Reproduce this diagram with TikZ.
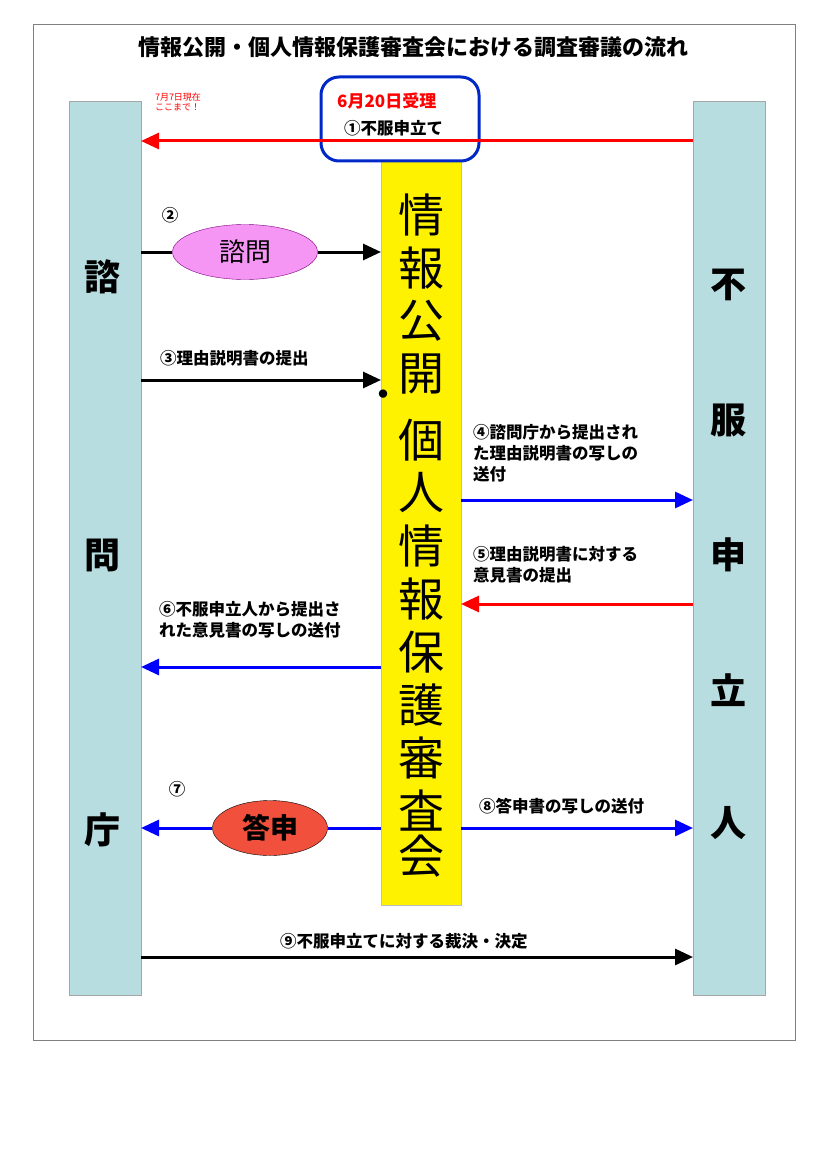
\documentclass[tikz,border=0pt]{standalone}
\usepackage{fontspec}
\setmainfont{Noto Sans CJK JP}
\usetikzlibrary{arrows.meta,shapes.geometric}
\begin{document}
\begin{tikzpicture}[x=1pt,y=-1pt,
  col/.style={draw=gray!70,fill={rgb,255:red,183;green,221;blue,224}},
  arr/.style={line width=3pt,-{Triangle[length=18pt,width=16pt]}},
  lbl/.style={font=\fontsize{16.5}{21}\selectfont\bfseries,align=left,inner sep=0},
  big/.style={font=\fontsize{36}{38}\selectfont\bfseries},
  yel/.style={font=\fontsize{46}{46}\selectfont}]
\useasboundingbox (0,0) rectangle (826,1169);
\draw[gray,line width=1pt] (33,25) rectangle (795,1040);
\node[font=\fontsize{22}{24}\selectfont\bfseries] (title) at (413,47) {情報公開・個人情報保護審査会における調査審議の流れ};
\node[col,minimum width=72pt,minimum height=894pt,inner sep=0] (L) at (105,548) {};
\node[col,minimum width=72pt,minimum height=894pt,inner sep=0] (R) at (729,548) {};
\node[fill=yellow,draw=gray!50,minimum width=80pt,minimum height=745pt,inner sep=0] (Y) at (421,532.5) {};
\node[draw={rgb,255:red,0;green,40;blue,200},line width=3pt,rounded corners=18pt,minimum width=158pt,minimum height=84pt] (box) at (400,119) {};
\node[text=red,font=\fontsize{17}{18}\selectfont\bfseries,anchor=west,inner sep=0] (d) at (337,101) {6月20日受理};
\node[lbl,anchor=west] (a1) at (344,128) {①不服申立て};
\node[text=red,font=\fontsize{9}{10}\selectfont,align=left] (note) at (178,102) {7月7日現在\\ここまで！};
\coordinate (r1) at (693,141); \coordinate (l1) at (141,141);
\draw[arr,red] (r1) -- (l1);
% 2
\node[lbl] (n2) at (170,215) {②};
\node[ellipse,draw=violet,fill={rgb,255:red,245;green,150;blue,245},minimum width=145pt,minimum height=55pt,font=\fontsize{26}{28}\selectfont] (e1) at (245,252) {諮問};
\coordinate (l2) at (141,252); \coordinate (y2) at (381,252);
\draw[line width=3pt] (l2) -- (e1.west);
\draw[arr] (e1.east) -- (y2);
% 3
\node[lbl,anchor=west] (n3) at (160,358) {③理由説明書の提出};
\coordinate (l3) at (141,380); \coordinate (y3) at (381,380);
\draw[arr] (l3) -- (y3);
% 4
\node[lbl,anchor=north west] (n4) at (473,424) {④諮問庁から提出され\\た理由説明書の写しの\\送付};
\coordinate (y4) at (461,500); \coordinate (r4) at (693,500);
\draw[arr,blue] (y4) -- (r4);
% 5
\node[lbl,anchor=north west] (n5) at (473,546) {⑤理由説明書に対する\\意見書の提出};
\coordinate (y5) at (461,604); \coordinate (r5) at (693,604);
\draw[arr,red] (r5) -- (y5);
% 6
\node[lbl,anchor=north west] (n6) at (159,601) {⑥不服申立人から提出さ\\れた意見書の写しの送付};
\coordinate (y6) at (381,667); \coordinate (l6) at (141,667);
\draw[arr,blue] (y6) -- (l6);
% 7
\node[lbl] (n7) at (177,789) {⑦};
\node[ellipse,draw=black,fill={rgb,255:red,240;green,80;blue,60},minimum width=115pt,minimum height=55pt,font=\fontsize{28}{30}\selectfont\bfseries] (e2) at (270,828) {答申};
\coordinate (y7) at (381,828); \coordinate (l7) at (141,828);
\draw[line width=3pt,blue] (y7) -- (e2.east);
\draw[arr,blue] (e2.west) -- (l7);
% 8
\node[lbl,anchor=west] (n8) at (479,806) {⑧答申書の写しの送付};
\coordinate (y8) at (461,828); \coordinate (r8) at (693,828);
\draw[arr,blue] (y8) -- (r8);
% 9
\node[lbl,anchor=west] (n9) at (280,941) {⑨不服申立てに対する裁決・決定};
\coordinate (l9) at (141,957); \coordinate (r9) at (693,957);
\draw[arr] (l9) -- (r9);
% left/right labels
\node[big] (k1) at (102,277) {諮};
\node[big] (k2) at (102,555) {問};
\node[big] (k3) at (102,830) {庁};
\node[big] (m1) at (728,285) {不};
\node[big] (m2) at (728,420) {服};
\node[big] (m3) at (728,555) {申};
\node[big] (m4) at (728,690) {立};
\node[big] (m5) at (728,823) {人};
% yellow column text
\foreach \c/\yy [count=\i] in {情/215,報/268,公/321,開/374,個/440,人/493,情/546,報/599,保/652,護/705,審/758,査/811,会/856}
  \node[yel] (v\i) at (421,\yy) {\c};
\node[font=\fontsize{30}{30}\selectfont\bfseries] (dot) at (383,398) {・};
\end{tikzpicture}
\end{document}
